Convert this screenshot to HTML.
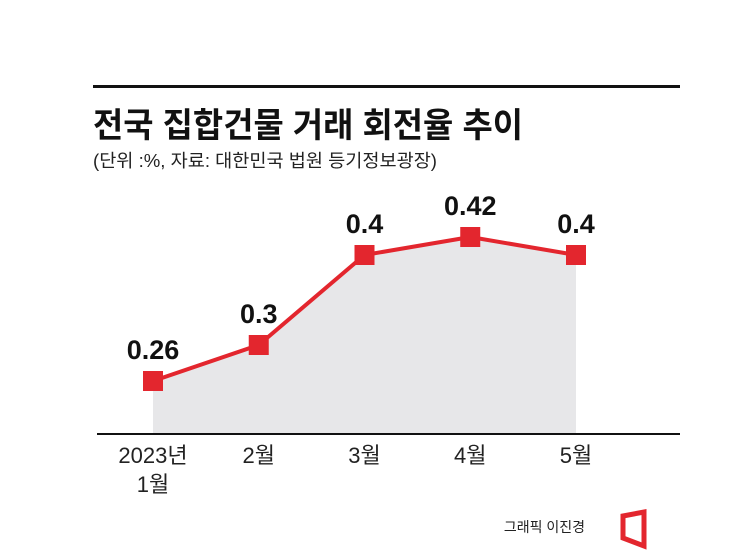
<!DOCTYPE html>
<html><head><meta charset="utf-8"><style>
html,body{margin:0;padding:0;background:#fff;width:745px;height:553px;overflow:hidden}
text{font-family:"Liberation Sans","Noto Sans CJK KR",sans-serif}
</style></head><body>
<svg id="chart" width="745" height="553" viewBox="0 0 745 553" xmlns="http://www.w3.org/2000/svg">
<rect x="93" y="85" width="587" height="3" fill="#111"/>
<text x="93" y="137" font-size="34" font-weight="bold" fill="#111" textLength="430" lengthAdjust="spacingAndGlyphs">전국 집합건물 거래 회전율 추이</text>
<text x="93" y="167" font-size="18" fill="#222" textLength="344" lengthAdjust="spacingAndGlyphs">(단위 :%, 자료:  대한민국 법원 등기정보광장)</text>
<g id="plot"></g>
<rect x="97" y="433" width="583" height="2" fill="#111"/>
<text x="585" y="532" font-size="14" fill="#222" text-anchor="end">그래픽 이진경</text>
<path d="M623 516 L644 512 L644 546 L623 538 Z" fill="none" stroke="#e3262e" stroke-width="5"/>
</svg>
<script>
const categories = ["2023년\n1월","2월","3월","4월","5월"];
const values = [0.26,0.3,0.4,0.42,0.4];
const labels = ["0.26","0.3","0.4","0.42","0.4"];
const NS="http://www.w3.org/2000/svg";
const g=document.getElementById('plot');
const xs=i=>153+i*105.75;
const ys=v=>255+(0.4-v)*900;
const base=433;
function mk(t,a){const e=document.createElementNS(NS,t);for(const k in a)e.setAttribute(k,a[k]);g.appendChild(e);return e;}
let d="M"+xs(0)+","+base;
values.forEach((v,i)=>d+=" L"+xs(i)+","+ys(v));
d+=" L"+xs(values.length-1)+","+base+" Z";
const area=mk('path',{d:d,fill:'#e7e7e9'});


const ln=mk('polyline',{points:values.map((v,i)=>xs(i)+","+ys(v)).join(" "),fill:'none',stroke:'#e3262e','stroke-width':4,'stroke-linejoin':'round'});


values.forEach((v,i)=>{
  const r=mk('rect',{x:xs(i)-10,y:ys(v)-10,width:20,height:20,fill:'#e3262e'});
  
  
  const t=mk('text',{x:xs(i),y:ys(v)-22,'font-size':27,'font-weight':'bold','text-anchor':'middle',fill:'#111'});
  t.textContent=labels[i];
  
  
  const parts=categories[i].split("\n");
  parts.forEach((p,j)=>{
    const c=mk('text',{x:xs(i),y:463+j*29,'font-size':22,'text-anchor':'middle',fill:'#222'});
    c.textContent=p;
    
    
  });
});
</script>
</body></html>
